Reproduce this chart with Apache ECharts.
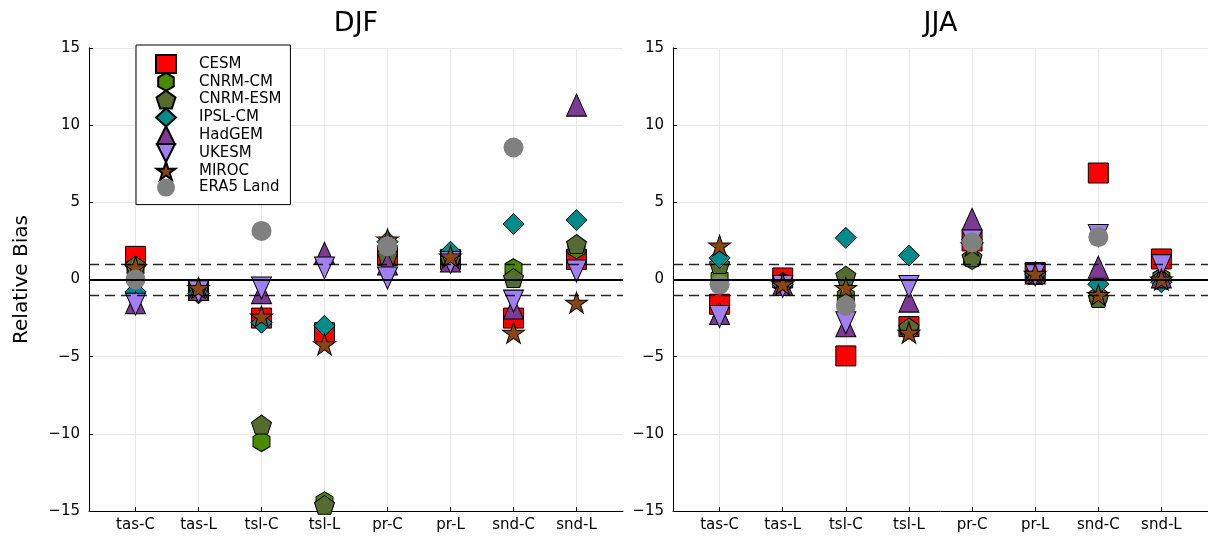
<!DOCTYPE html>
<html>
<head>
<meta charset="utf-8">
<script src="https://cdn.jsdelivr.net/npm/echarts@6/dist/echarts.min.js"></script>
<style>html,body{margin:0;padding:0;background:#fff}#c{width:1208px;height:539px}</style>
</head>
<body>
<div id="c"></div>
<script>
// ---------- data ----------
const categories = ['tas-C','tas-L','tsl-C','tsl-L','pr-C','pr-L','snd-C','snd-L'];
const panels = ['DJF','JJA'];
const yTicks = [-15,-10,-5,0,5,10,15];
const refLines = [-1, 0, 1];
const models = ['CESM','CNRM-CM','CNRM-ESM','IPSL-CM','HadGEM','UKESM','MIROC','ERA5 Land'];

const cesmDJF    = [1.5, -0.7, -2.5, -3.45, 1.55, 1.3, -2.5, 1.3];
const cnrmcmDJF  = [0.7, -0.6, -10.5, -14.4, 1.8, 1.3, 0.7, 2.0];
const cnrmesmDJF = [0.9, -0.6, -9.4, -14.6, 1.6, 1.3, 0.1, 2.3];
const ipslDJF    = [-0.8, -0.9, -2.8, -3.0, 2.45, 1.8, 3.6, 3.85];
const hadgemDJF  = [-1.5, -0.65, -0.85, 1.7, 1.0, 1.2, -1.85, 11.3];
const ukesmDJF   = [-1.6, -0.8, -0.55, 0.75, 0.1, 1.1, -1.4, 0.55];
const mirocDJF   = [0.8, -0.55, -2.4, -4.2, 2.6, 1.5, -3.45, -1.5];
const era5DJF    = [0.0, null, 3.15, null, 2.15, null, 8.55, null];

const cesmJJA    = [-1.6, 0.1, -4.95, -3.05, 2.5, 0.45, 6.9, 1.33];
const cnrmcmJJA  = [0.1, -0.2, -1.1, -3.2, 1.3, 0.3, -1.1, 0.1];
const cnrmesmJJA = [1.0, -0.2, 0.25, -3.1, 1.45, 0.3, -1.2, 0.0];
const ipslJJA    = [1.4, -0.3, 2.7, 1.55, 2.6, 0.35, -0.3, -0.18];
const hadgemJJA  = [-2.2, -0.33, -3.0, -1.4, 3.9, 0.43, 0.8, 0.17];
const ukesmJJA   = [-2.4, -0.45, -2.8, -0.45, 2.5, 0.3, 2.85, 0.9];
const mirocJJA   = [2.2, -0.3, -0.55, -3.45, 2.2, 0.37, -1.0, 0.0];
const era5JJA    = [-0.33, null, -1.7, null, 2.4, null, 2.75, null];

const seriesDJF = [cesmDJF, cnrmcmDJF, cnrmesmDJF, ipslDJF, hadgemDJF, ukesmDJF, mirocDJF, era5DJF];
const seriesJJA = [cesmJJA, cnrmcmJJA, cnrmesmJJA, ipslJJA, hadgemJJA, ukesmJJA, mirocJJA, era5JJA];

// ---------- styles ----------
const colors = ['#ff0000','#4a8a00','#556b2f','#008b8b','#7d3a92','#a07ff0','#8b4513','#808080'];
const HEX = 'path://M50 0 L93.3 25 L93.3 75 L50 100 L6.7 75 L6.7 25 Z';
const PENT = 'path://M50 0 L97.55 34.55 L79.39 90.45 L20.61 90.45 L2.45 34.55 Z';
const STAR = 'path://M50 0 L61.23 34.55 L97.55 34.55 L68.16 55.9 L79.39 90.45 L50 69.1 L20.61 90.45 L31.84 55.9 L2.45 34.55 L38.77 34.55 Z';
const UP = 'path://M50 0 L100 100 L0 100 Z';
const DOWN = 'path://M0 0 L100 0 L50 100 Z';
const symbols = ['rect', HEX, PENT, 'diamond', UP, DOWN, STAR, 'circle'];
const sizes = [[20,20],[17,20],[20,19],[21,21],[20,22],[20,22],[22,21],[20,20]];

const FONT = 'DejaVu Sans';
const grids = [
  {left: 89, right: 585, top: 48, bottom: 28},
  {left: 673, right: 0, top: 48, bottom: 28}
];
const xMin = -0.738, xMax = 7.738;
const idx = categories.map((c, i) => i);

const xAxes = grids.map((g, gi) => ({
  type: 'value', gridIndex: gi, min: xMin, max: xMax,
  axisLine: {show: true, onZero: false, lineStyle: {color: '#000', width: 1}},
  axisTick: {show: true, inside: true, length: 4, customValues: idx, lineStyle: {color: '#000'}},
  axisLabel: {customValues: idx, formatter: v => categories[Math.round(v)] || '', color: '#000',
              fontFamily: FONT, fontSize: 15, margin: 7},
  splitLine: {show: true, lineStyle: {color: '#e8e8e8', width: 1}}
}));
const yAxes = grids.map((g, gi) => ({
  type: 'value', gridIndex: gi, min: -15, max: 15, interval: 5,
  name: gi === 0 ? 'Relative Bias' : '', nameLocation: 'middle', nameGap: 57,
  nameTextStyle: {color: '#000', fontFamily: FONT, fontSize: 20},
  axisLine: {show: true, onZero: false, lineStyle: {color: '#000', width: 1}},
  axisTick: {show: true, inside: true, length: 4, lineStyle: {color: '#000'}},
  axisLabel: {color: '#000', fontFamily: FONT, fontSize: 15, margin: 9,
              formatter: v => String(v).replace('-', '\u2212')},
  splitLine: {show: true, lineStyle: {color: '#e8e8e8', width: 1}}
}));

const series = [];
[seriesDJF, seriesJJA].forEach((set, gi) => {
  series.push({
    type: 'scatter', xAxisIndex: gi, yAxisIndex: gi, data: [], z: 1, silent: true,
    markLine: {
      silent: true, symbol: 'none', animation: false, label: {show: false},
      data: refLines.map(v => ({yAxis: v, lineStyle: {color: '#000', width: v === 0 ? 1.8 : 1.4, type: v === 0 ? 'solid' : [10, 6], opacity: v === 0 ? 1 : 0.85}}))
    }
  });
  set.forEach((vals, mi) => {
    series.push({
      name: models[mi], type: 'scatter', xAxisIndex: gi, yAxisIndex: gi, z: 2,
      symbol: symbols[mi], symbolSize: sizes[mi],
      itemStyle: {color: colors[mi], borderColor: mi === 7 ? colors[mi] : '#000', borderWidth: mi === 7 ? 0 : 1, opacity: 1},
      emphasis: {disabled: true},
      data: vals.map((v, i) => v === null ? null : [i, v]).filter(d => d !== null)
    });
  });
});

const chart = echarts.init(document.getElementById('c'), null, {renderer: 'canvas'});
chart.setOption({
  animation: false,
  backgroundColor: '#fff',
  title: panels.map((p, i) => ({
    text: p, left: i === 0 ? 356 : 940.5, top: 10, textAlign: 'center', padding: 0,
    textStyle: {fontFamily: FONT, fontSize: 27, fontWeight: 'normal', color: '#000'}
  })),
  grid: grids,
  xAxis: xAxes,
  yAxis: yAxes,
  legend: {
    data: models, orient: 'vertical', left: 136, top: 45, selectedMode: false,
    backgroundColor: '#fff', borderColor: '#000', borderWidth: 1,
    padding: [9, 9, 8, 19], itemWidth: 20, itemHeight: 18, itemGap: -2.2,
    textStyle: {fontFamily: FONT, fontSize: 15, color: '#000', padding: [0, 0, 0, 18]}
  },
  series: series
});
</script>
</body>
</html>
